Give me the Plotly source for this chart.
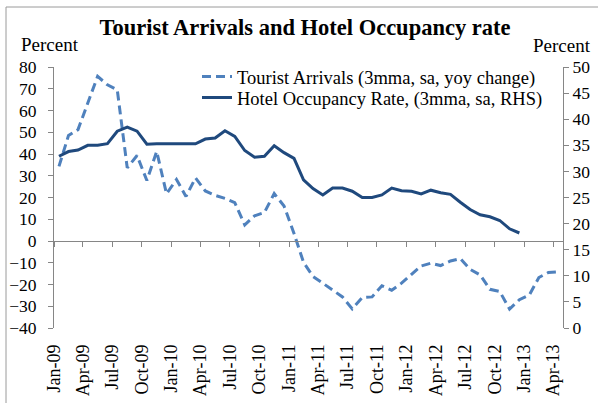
import plotly.graph_objects as go

# Monthly data
tourist_months = [f"{y}-{m:02d}" for y in range(2009, 2014) for m in range(1, 13)][:52]  # Jan-09 .. Apr-13
hotel_months = tourist_months[:48]  # Jan-09 .. Dec-12

tourist_arrivals = [
    34.3, 48.5, 51.2, 63.0, 75.7, 71.8, 69.5, 33.6, 39.3, 27.8, 41.2, 21.7,
    28.3, 20.5, 29.0, 23.0, 21.0, 19.6, 17.6, 7.4, 11.6, 13.1, 21.8, 16.1,
    3.5, -9.8, -16.3, -19.4, -22.6, -25.7, -31.2, -26.0, -25.7, -20.6, -22.6, -19.4,
    -15.3, -11.5, -10.2, -11.3, -9.2, -8.1, -13.0, -15.6, -22.2, -23.2, -31.3, -27.0,
    -24.8, -16.8, -14.5, -14.2,
]
hotel_occupancy = [
    32.9, 33.8, 34.1, 35.0, 35.0, 35.3, 37.7, 38.5, 37.7, 35.2, 35.3, 35.3,
    35.4, 35.4, 35.3, 36.2, 36.4, 37.8, 36.7, 34.0, 32.7, 32.9, 34.9, 33.6,
    32.5, 28.4, 26.7, 25.5, 26.8, 26.8, 26.2, 25.0, 25.0, 25.5, 26.8, 26.3,
    26.2, 25.7, 26.4, 25.9, 25.6, 24.1, 22.7, 21.7, 21.3, 20.6, 19.0, 18.2,
]

FONT = "Liberation Serif"
AXIS_GRAY = "#868686"
X_RANGE = ["2009-01-01", "2013-05-01"]
PLOT_L, PLOT_R, PLOT_T, PLOT_B = 54, 563, 67, 328
PW, PH = PLOT_R - PLOT_L, PLOT_B - PLOT_T


def px_x(px):
    return (px - PLOT_L) / PW


def px_y(py):
    return (PLOT_B - py) / PH


fig = go.Figure()

fig.add_trace(go.Scatter(
    x=tourist_months, y=tourist_arrivals, mode="lines",
    xperiod="M1", xperiodalignment="middle",
    name="Tourist Arrivals (3mma, sa, yoy change)",
    line=dict(color="#4F81BD", width=3, dash="9px,5px"),
    xaxis="x", yaxis="y", legend="legend",
))
fig.add_trace(go.Scatter(
    x=hotel_months, y=hotel_occupancy, mode="lines",
    xperiod="M1", xperiodalignment="middle",
    name="Hotel Occupancy Rate, (3mma, sa, RHS)",
    line=dict(color="#1F497D", width=3),
    xaxis="x", yaxis="y2", legend="legend2",
))
# invisible trace to carry the zero-line category axis
fig.add_trace(go.Scatter(
    x=tourist_months, y=tourist_arrivals, mode="lines",
    xperiod="M1", xperiodalignment="middle",
    line=dict(width=0), opacity=0, showlegend=False, hoverinfo="skip",
    xaxis="x2", yaxis="y",
))

legend_common = dict(
    xanchor="left", yanchor="middle",
    bgcolor="rgba(0,0,0,0)", borderwidth=0,
    font=dict(family=FONT, size=18.5, color="black"),
)

fig.update_layout(
    width=598, height=403,
    margin=dict(l=PLOT_L, r=598 - PLOT_R, t=PLOT_T, b=403 - PLOT_B, autoexpand=False),
    paper_bgcolor="white", plot_bgcolor="white",
    font=dict(family=FONT, size=17, color="black"),
    title=dict(
        text="<b>Tourist Arrivals and Hotel Occupancy rate</b>",
        font=dict(family=FONT, size=22.5, color="black"),
        x=0.51, xanchor="center", xref="container",
        y=1 - 27 / 403, yanchor="middle", yref="container",
    ),
    showlegend=True,
    legend=dict(x=px_x(197), y=px_y(77), **legend_common),
    legend2=dict(x=px_x(197), y=px_y(98), **legend_common),
    xaxis=dict(
        type="date", range=X_RANGE,
        tickmode="linear", tick0="2009-01-01", dtick="M3",
        tickformat="%b-%y", tickangle=-90,
        showline=False, ticks="", showgrid=False, zeroline=False,
        ticklabelstandoff=12,
        tickfont=dict(family=FONT, size=18),
    ),
    xaxis2=dict(
        type="date", range=X_RANGE, overlaying="x",
        anchor="free", position=1 / 3, side="bottom",
        tickmode="linear", tick0="2009-01-01", dtick="M3",
        showticklabels=False, showline=True, linecolor=AXIS_GRAY, linewidth=1,
        ticks="outside", ticklen=5, tickcolor=AXIS_GRAY,
        showgrid=False, zeroline=False,
    ),
    yaxis=dict(
        range=[-40, 80], dtick=10, tick0=0,
        showline=True, linecolor=AXIS_GRAY, linewidth=1,
        ticks="outside", ticklen=5, tickcolor=AXIS_GRAY,
        showgrid=False, zeroline=False,
        ticklabelstandoff=8,
        tickfont=dict(family=FONT, size=17.5),
    ),
    yaxis2=dict(
        range=[0, 50], dtick=5, tick0=0, overlaying="y", side="right",
        showline=True, linecolor=AXIS_GRAY, linewidth=1,
        ticks="outside", ticklen=5, tickcolor=AXIS_GRAY,
        showgrid=False, zeroline=False,
        tickfont=dict(family=FONT, size=17.5),
    ),
    annotations=[
        dict(text="Percent", xref="paper", yref="paper",
             x=px_x(19), xanchor="left", y=px_y(57), yanchor="bottom",
             showarrow=False, font=dict(family=FONT, size=19, color="black")),
        dict(text="Percent", xref="paper", yref="paper",
             x=px_x(593), xanchor="right", y=px_y(58), yanchor="bottom",
             showarrow=False, font=dict(family=FONT, size=19, color="black")),
    ],
    shapes=[
        dict(type="rect", xref="paper", yref="paper",
             x0=px_x(6), x1=px_x(640), y0=px_y(440), y1=px_y(7),
             line=dict(color="#9a9a9a", width=1), fillcolor="rgba(0,0,0,0)", layer="below"),
    ],
)

fig.write_html(
    "out.html",
    config={"displayModeBar": False},
    post_script="document.body.style.margin='0';",
)
